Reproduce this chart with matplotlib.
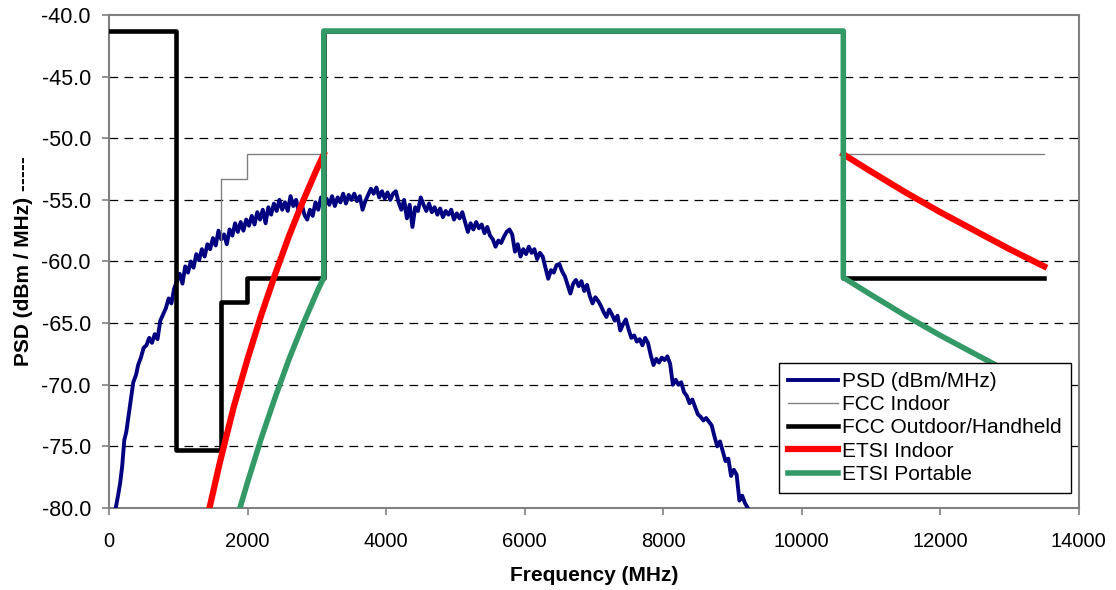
import matplotlib
matplotlib.use("Agg")
import matplotlib.pyplot as plt

plt.rcParams['font.family'] = ['Liberation Sans', 'DejaVu Sans']

nan = float('nan')

# Medida de PSD del transmisor (dBm/MHz)
psd_f = [100, 130, 160, 190, 220, 250, 280, 320, 350, 390, 420, 460, 500, 540, 580, 620, 660, 700,
         740, 780, 820, 860, 900, 940, 980, 1020, 1060, 1100, 1140, 1180, 1220, 1260, 1300, 1340,
         1380, 1420, 1460, 1500, 1540, 1580, 1620, 1660, 1700, 1740, 1780, 1820, 1860, 1900, 1940,
         1980, 2020, 2060, 2100, 2140, 2180, 2220, 2260, 2300, 2340, 2380, 2420, 2460, 2500, 2540,
         2580, 2620, 2660, 2700, 2740, 2780, 2820, 2860, 2900, 2940, 2980, 3020, 3060, 3100, 3140,
         3180, 3220, 3260, 3300, 3340, 3380, 3420, 3460, 3500, 3540, 3580, 3620, 3660, 3700, 3740,
         3780, 3820, 3860, 3900, 3940, 3980, 4020, 4060, 4100, 4140, 4180, 4220, 4260, 4300, 4340,
         4380, 4420, 4460, 4500, 4540, 4580, 4620, 4660, 4700, 4740, 4780, 4820, 4860, 4900, 4940,
         4980, 5020, 5060, 5100, 5140, 5180, 5220, 5260, 5300, 5340, 5380, 5420, 5460, 5500, 5540,
         5580, 5620, 5660, 5700, 5740, 5780, 5820, 5860, 5900, 5940, 5980, 6020, 6060, 6100, 6140,
         6180, 6220, 6260, 6300, 6340, 6380, 6420, 6460, 6500, 6540, 6580, 6620, 6660, 6700, 6740,
         6780, 6820, 6860, 6900, 6940, 6980, 7020, 7060, 7100, 7140, 7180, 7220, 7260, 7300, 7340,
         7380, 7420, 7460, 7500, 7540, 7580, 7620, 7660, 7700, 7740, 7780, 7820, 7860, 7900, 7940,
         7980, 8020, 8060, 8100, 8140, 8180, 8220, 8260, 8300, 8340, 8380, 8420, 8460, 8500, 8540,
         8580, 8620, 8660, 8700, 8740, 8780, 8820, 8860, 8900, 8940, 8980, 9020, 9060, 9100, 9140,
         9180, 9220]
psd_db = [-79.9, -79.0, -78.0, -76.6, -74.5, -73.8, -72.6, -71.0, -69.8, -69.2, -68.4, -67.8, -67.0,
          -66.8, -66.2, -66.6, -65.9, -66.3, -64.8, -64.3, -63.8, -63.0, -63.4, -62.2, -61.6, -61.0,
          -61.8, -60.4, -60.9, -60.0, -60.5, -59.4, -59.9, -59.0, -59.6, -58.6, -59.0, -58.1, -58.7,
          -57.5, -58.2, -57.8, -58.6, -57.4, -57.9, -56.9, -57.6, -56.8, -57.5, -56.6, -57.1, -56.3,
          -57.0, -56.0, -56.6, -55.8, -56.9, -55.6, -56.2, -55.3, -55.9, -55.0, -55.8, -55.2, -55.9,
          -54.7, -55.5, -55.0, -56.0, -55.3, -56.2, -56.6, -55.8, -56.3, -55.2, -55.8, -54.8, -55.6,
          -54.9, -55.4, -54.7, -55.5, -54.8, -55.2, -54.5, -55.3, -54.6, -55.0, -54.5, -55.1, -54.7,
          -55.8, -55.1, -54.6, -54.1, -54.5, -54.0, -54.8, -54.3, -54.9, -54.4, -55.0, -54.5, -54.3,
          -55.2, -55.8, -55.0, -56.5, -55.4, -57.2, -55.6, -55.9, -54.8, -55.4, -55.9, -55.3, -56.0,
          -55.6, -56.2, -55.7, -56.4, -55.9, -56.2, -55.8, -56.6, -56.1, -56.5, -56.0, -56.8, -57.6,
          -56.9, -57.4, -56.8, -57.3, -57.0, -57.7, -57.2, -57.9, -58.2, -58.8, -58.3, -58.5, -58.0,
          -57.6, -57.4, -57.8, -59.2, -58.6, -59.6, -59.0, -59.4, -58.8, -59.3, -59.0, -59.8, -59.3,
          -59.6, -60.5, -61.4, -60.7, -60.9, -60.3, -60.2, -60.8, -61.2, -61.9, -62.6, -61.8, -61.5,
          -62.0, -61.6, -62.4, -61.9, -62.8, -63.4, -62.9, -63.2, -63.6, -64.1, -64.5, -63.9, -64.3,
          -64.8, -64.4, -65.6, -65.1, -64.7, -65.5, -66.2, -66.0, -66.5, -66.3, -66.8, -66.2, -66.6,
          -67.6, -68.4, -67.9, -68.2, -67.8, -68.0, -67.7, -68.3, -70.0, -69.6, -70.0, -69.8, -70.6,
          -70.9, -71.5, -71.2, -71.8, -72.4, -72.6, -72.9, -72.7, -73.0, -73.3, -74.2, -75.0, -74.6,
          -75.4, -76.2, -76.0, -77.4, -76.9, -77.3, -79.4, -79.0, -79.6, -80.0]

# Mascaras FCC (escalones)
fcc_f = [0, 960, 960, 1610, 1610, 1990, 1990, 3100, 3100, 10600, 10600, 13500]
fcc_indoor_db = [-41.3, -41.3, -75.3, -75.3, -53.3, -53.3, -51.3, -51.3, -41.3, -41.3, -51.3, -51.3]
fcc_outdoor_db = [-41.3, -41.3, -75.3, -75.3, -63.3, -63.3, -61.3, -61.3, -41.3, -41.3, -61.3, -61.3]

# Mascaras ETSI (la parte plana de indoor queda bajo la de portable)
etsi_in_f = [1450, 1600, 1800, 2000, 2200, 2400, 2600, 2800, 3000, 3100, nan,
             10600, 11000, 11500, 12000, 12500, 13000, 13500]
etsi_in_db = [-80.0, -76.3, -71.8, -67.9, -64.3, -61.0, -57.9, -55.1, -52.5, -51.3, nan,
              -51.3, -52.7, -54.4, -56.0, -57.5, -59.0, -60.4]
etsi_port_f = [1890, 2000, 2200, 2400, 2600, 2800, 3000, 3100, 3100, 10600, 10600,
               11000, 11500, 12000, 12500, 13000, 13500]
etsi_port_db = [-80.0, -77.9, -74.3, -71.0, -67.9, -65.1, -62.5, -61.3, -41.3, -41.3, -61.3,
                -62.7, -64.4, -66.0, -67.5, -69.0, -70.4]

fig = plt.figure(figsize=(11.16, 5.90), dpi=100)
ax = fig.add_axes([0.0977, 0.139, 0.869, 0.8356])

ax.plot(psd_f, psd_db, color='#000080', linewidth=2.8, label='PSD (dBm/MHz)', zorder=3)
ax.plot(fcc_f, fcc_indoor_db, color='#808080', linewidth=1.0, label='FCC Indoor', zorder=4)
ax.plot(fcc_f, fcc_outdoor_db, color='black', linewidth=3.3, label='FCC Outdoor/Handheld', zorder=5)
ax.plot(etsi_in_f, etsi_in_db, color='#ff0000', linewidth=4.5, label='ETSI Indoor', zorder=6)
ax.plot(etsi_port_f, etsi_port_db, color='#339966', linewidth=4.0, label='ETSI Portable', zorder=7)

ax.set_xlim(0, 14000)
ax.set_ylim(-80, -40)
ax.set_xticks(range(0, 14001, 2000))
ax.set_yticks([-80, -75, -70, -65, -60, -55, -50, -45, -40])
ax.set_yticklabels([f"{v:.1f}" for v in ax.get_yticks()])

# rejilla horizontal discontinua
for yv in [-75, -70, -65, -60, -55, -50, -45]:
    ax.axhline(yv, color='black', linewidth=0.9, linestyle=(0, (7, 5)), zorder=1)

for s in ax.spines.values():
    s.set_color('#808080')
    s.set_linewidth(1.5)
ax.tick_params(axis='both', length=5, color='#808080', width=1.2)
ax.tick_params(axis='x', labelsize=14.5, pad=12)
ax.tick_params(axis='y', labelsize=15.5, pad=8)

ax.set_xlabel("Frequency (MHz)", fontsize=15, fontweight='bold', labelpad=11)
ax.set_ylabel("PSD (dBm / MHz) -----", fontsize=15, fontweight='bold', labelpad=6)

leg = ax.legend(loc='lower right', bbox_to_anchor=(0.992, 0.03), fontsize=15, frameon=True,
                fancybox=False, framealpha=1, edgecolor='black', borderpad=0.45,
                labelspacing=0.2, handlelength=2.4, handletextpad=0.2, borderaxespad=0)
leg.get_frame().set_linewidth(1.0)
leg.set_zorder(10)

fig.savefig("out.png", dpi=100)
